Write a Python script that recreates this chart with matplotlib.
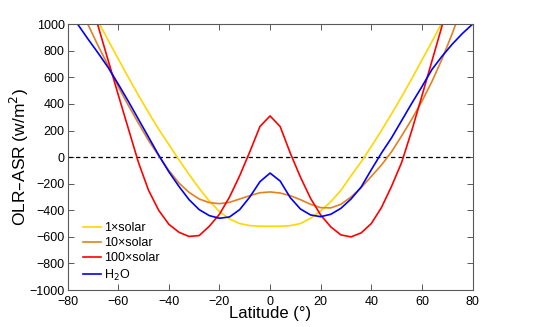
"""OLR-ASR against latitude for several atmospheres."""

import matplotlib
matplotlib.use("Agg")
import matplotlib.pyplot as plt

plt.rcParams['font.family'] = ['Liberation Sans', 'DejaVu Sans']

# latitude grids (degrees)
lat_1x = list(range(-72, 73, 4))
lat_10x = list(range(-76, 77, 4))
lat_100x = list(range(-72, 73, 4))
lat_h2o = list(range(-80, 81, 4))

# OLR-ASR (W/m^2)
olr_1x = [1165, 1025, 880, 740, 600, 465, 335, 210, 95, -20, -130, -235,
          -330, -410, -465, -500, -515, -520, -520, -520, -515, -500, -460,
          -405, -335, -250, -140, -35, 80, 200, 325, 455, 590, 730, 870,
          1015, 1160]
olr_10x = [1130, 1000, 840, 690, 530, 390, 255, 125, 10, -100, -195, -265,
           -315, -342, -350, -340, -315, -290, -268, -262, -270, -290, -320,
           -355, -380, -382, -355, -300, -230, -145, -60, 40, 160, 285, 420,
           570, 740, 930, 1140]
olr_100x = [1260, 990, 730, 470, 215, -40, -250, -400, -505, -565, -597,
            -590, -520, -430, -300, -140, 40, 230, 310, 230, 30, -150, -310,
            -435, -525, -585, -600, -570, -500, -380, -220, -40, 200, 460,
            725, 990, 1255]
olr_h2o = [1105, 1000, 890, 785, 675, 550, 420, 285, 150, 15, -110, -220,
           -320, -395, -440, -460, -450, -395, -300, -185, -120, -180, -305,
           -390, -435, -448, -430, -385, -315, -225, -95, 30, 145, 275, 405,
           530, 660, 760, 850, 930, 1000]

fig = plt.figure(figsize=(5.45, 3.27), dpi=100)
ax = fig.add_axes([0.124, 0.113, 0.743, 0.813])

ax.axhline(0, color='black', linestyle=(0, (3.5, 2.5)), linewidth=0.9)

ax.plot(lat_1x, olr_1x, color='#FFD700', linewidth=1.2, label='1\u00d7solar')
ax.plot(lat_10x, olr_10x, color='#E0821E', linewidth=1.2, label='10\u00d7solar')
ax.plot(lat_100x, olr_100x, color='#FF0000', linewidth=1.2, label='100\u00d7solar')
ax.plot(lat_h2o, olr_h2o, color='#0000FF', linewidth=1.2, label='H$_2$O')

ax.set_xlim(-80, 80)
ax.set_ylim(-1000, 1000)
ax.set_xticks(range(-80, 81, 20))
ax.set_yticks(range(-1000, 1001, 200))
ax.tick_params(direction='in', top=True, right=True, length=4, width=0.7,
               labelsize=9, color='0.35')
ax.tick_params(axis='x', pad=4)
ax.tick_params(axis='y', pad=2)
for s in ax.spines.values():
    s.set_color('0.35')
    s.set_linewidth(0.8)

ax.set_xlabel('Latitude (\u00b0)', fontsize=12, labelpad=-1)
ax.set_ylabel('OLR\u2013ASR (w/m$^2$)', fontsize=12.5, labelpad=-1)

ax.legend(loc='lower left', bbox_to_anchor=(0.02, 0.0), frameon=False,
          fontsize=9, handlelength=1.45, handletextpad=0.2,
          labelspacing=0.25, borderaxespad=0.2)

plt.savefig('out.png', dpi=100)
